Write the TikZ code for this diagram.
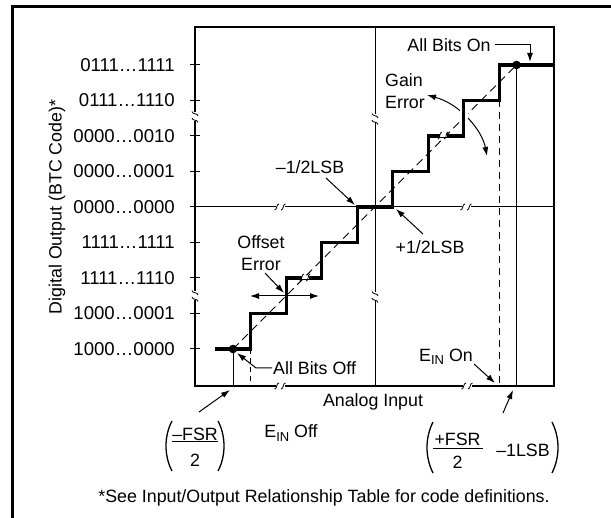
\documentclass[tikz,border=0pt]{standalone}
\usepackage{fontspec}
\setmainfont{Liberation Sans}
\usetikzlibrary{arrows.meta}
\newcommand{\subIN}{\raisebox{-0.35ex}{\fontsize{13}{13}\selectfont IN}}
\tikzset{
  tip/.tip={Latex[length=9pt,width=6pt]},
  arr/.style={-tip, line width=1pt},
  darr/.style={tip-tip, line width=1pt},
  lbl/.style={inner sep=1pt},
  ticklbl/.style={inner sep=1pt,anchor=east,font=\fontsize{18.6}{22}\selectfont},
  thinln/.style={line width=1pt},
  paren/.style={line width=1.3pt},
  hbrk/.pic={
    \fill[white] (-4.5,-3.2) rectangle (4.5,3.2);
    \draw[line width=0.8pt] (-5.5,3) .. controls (-2.5,3) and (-4,-3) .. (-1,-3);
    \draw[line width=0.8pt] (1,3) .. controls (4,3) and (2.5,-3) .. (5.5,-3);
  },
  sbrk/.pic={
    \fill[white] (-3.5,-1.2) rectangle (3.5,1.2);
    \draw[line width=0.8pt] (-5,3.5) .. controls (-2.5,3.5) and (-4,-3.5) .. (-1,-3.5);
    \draw[line width=0.8pt] (1,3.5) .. controls (4,3.5) and (2.5,-3.5) .. (5,-3.5);
  }
}
\begin{document}
\begin{tikzpicture}[x=1pt,y=-1pt,font=\fontsize{17.8}{22}\selectfont]
\useasboundingbox (0,0) rectangle (611,518);
% outer frame
\draw[line width=2.2pt] (12.5,518) -- (12.5,6.5) -- (611,6.5);
% plot box
\draw[line width=1.3pt] (195,27) rectangle (554,386);
\foreach \yy in {65,100.5,136,171.5,207,242.5,278,313.5,349}
  \draw[thinln] (190,\yy) -- (200,\yy);
\draw[thinln] (190,207) -- (554,207);
\draw[thinln] (375,27) -- (375,386);
% tick labels
\foreach \yy/\tx [count=\i] in {65/0111…1111,100.5/0111…1110,136/0000…0010,171.5/0000…0001,207/0000…0000,242.5/1111…1111,278/1111…1110,313.5/1000…0001,349/1000…0000}
  \node[ticklbl] (t\i) at (176,\yy) {\tx};
% vertical reference lines
\draw[thinln] (233,349) -- (233,386);
\draw[thinln,dash pattern=on 5pt off 4pt] (250.75,349) -- (250.75,386);
\draw[thinln] (516.5,65) -- (516.5,386);
\draw[thinln,dash pattern=on 7pt off 5pt] (499.25,100.5) -- (499.25,386);
% ideal transfer line
\coordinate (dl) at (233,349);
\coordinate (dr) at (516.5,65);
\draw[line width=0.9pt,dash pattern=on 8pt off 5pt] (dl) -- (dr);
% gain error arc
\coordinate (gainA) at (427,95);
\coordinate (gainB) at (487,156);
\draw[darr] (gainA) .. controls (460,104) and (482,130) .. (gainB);
\draw[white,line width=8pt] (463.75,104) -- (463.75,126);
% staircase
\draw[line width=3.2pt,line join=miter] (215,349) -- (250.75,349) -- (250.75,313.5) -- (286.25,313.5) -- (286.25,278) -- (321.75,278) -- (321.75,242.5) -- (357.25,242.5) -- (357.25,207) -- (392.75,207) -- (392.75,171.5) -- (428.25,171.5) -- (428.25,136) -- (463.75,136) -- (463.75,100.5) -- (499.25,100.5) -- (499.25,65) -- (554,65);
% breaks
\pic at (280,207) {hbrk};
\pic at (466,207) {hbrk};
\pic at (280,386) {hbrk};
\pic at (467,386) {hbrk};
\pic[rotate=90] at (195,117) {hbrk};
\pic[rotate=90] at (195,296) {hbrk};
\pic[rotate=90] at (375,119) {hbrk};
\pic[rotate=90] at (375,297) {hbrk};
\pic at (305,277.5) {sbrk};
\pic at (443,135.5) {sbrk};
% dots
\fill (dl) circle (4.3pt);
\fill (dr) circle (4.3pt);
% All Bits On
\node[lbl] (abon) at (449,45) {All Bits On};
\coordinate (abonT) at (530,62);
\draw[arr,shorten <=3pt] (abon.east) -| (abonT);
% Gain Error
\node[lbl,anchor=west,align=left] (gain) at (384,91) {Gain\\Error};
% -1/2LSB
\node[lbl] (lsbm) at (310,167) {–1/2LSB};
\coordinate (lsbmS) at (326,178);
\coordinate (lsbmT) at (355,205);
\draw[arr] (lsbmS) -- (lsbmT);
% +1/2LSB
\node[lbl] (lsbp) at (430,247) {+1/2LSB};
\coordinate (lsbpS) at (423,234);
\coordinate (lsbpT) at (396,209);
\draw[arr] (lsbpS) -- (lsbpT);
% Offset Error
\node[lbl,align=center] (off) at (261,253) {Offset\\Error};
\coordinate (offS) at (265,273);
\coordinate (offT) at (284,293);
\draw[arr] (offS) -- (offT);
\coordinate (offL) at (250,296);
\coordinate (offR) at (319,296);
\draw[darr] (offL) -- (offR);
% All Bits Off
\node[lbl,anchor=west] (aboff) at (272,368) {All Bits Off};
\coordinate (aboffT) at (237,353);
\draw[arr] (aboff.west) -- (256,368) -- (aboffT);
% Analog input, E_IN
\node[lbl] (ai) at (373,402) {Analog Input};
\node[lbl] (einoff) at (291,433) {E\subIN\ Off};
\node[lbl] (einon) at (446,357) {E\subIN\ On};
\coordinate (einonS) at (474,364);
\coordinate (einonT) at (495,383);
\draw[arr] (einonS) -- (einonT);
% -FSR/2
\node[lbl] (fsrm) at (195,434) {–FSR};
\draw[line width=1pt] (172,441.5) -- (218,441.5);
\node[lbl] (twoa) at (195,460) {2};
\draw[paren] (172,421) .. controls (164,436) and (164,456) .. (172,471);
\draw[paren] (218,421) .. controls (226,436) and (226,456) .. (218,471);
\coordinate (fsrmS) at (199,412);
\coordinate (fsrmT) at (230,390);
\draw[arr] (fsrmS) -- (fsrmT);
% +FSR/2 - 1LSB
\node[lbl] (fsrp) at (457.5,439) {+FSR};
\draw[line width=1pt] (433,449) -- (483,449);
\node[lbl] (twob) at (457.5,462) {2};
\node[lbl] (lsbone) at (523,450) {–1LSB};
\draw[paren] (433,422) .. controls (425,438) and (425,457) .. (433,473);
\draw[paren] (552,422) .. controls (560,438) and (560,457) .. (552,473);
\coordinate (fsrpS) at (503,413);
\coordinate (fsrpT) at (513,390);
\draw[arr] (fsrpS) -- (fsrpT);
% axis label and footnote
\node[lbl,rotate=90] (ylab) at (57,207) {Digital Output (BTC Code)*};
\node[lbl] (fn) at (324,498) {*See Input/Output Relationship Table for code definitions.};
\end{tikzpicture}
\end{document}
